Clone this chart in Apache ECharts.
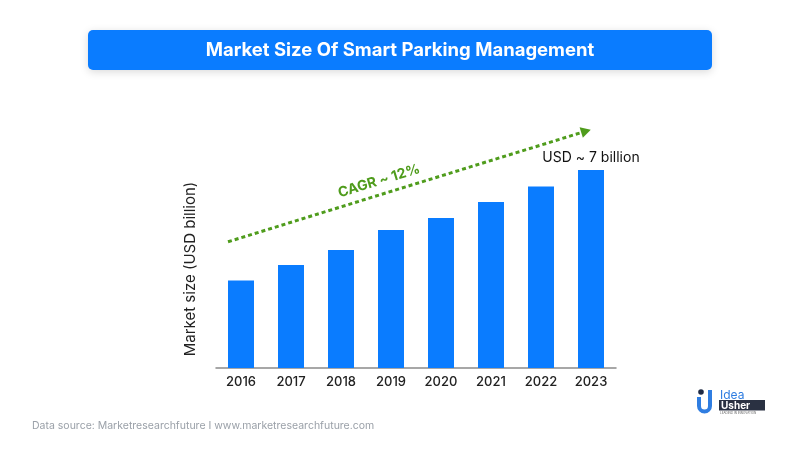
<!DOCTYPE html>
<html>
<head>
<meta charset="utf-8">
<script src="https://cdn.jsdelivr.net/npm/echarts@6/dist/echarts.min.js"></script>
<style>html,body{margin:0;padding:0;background:#fff}#c{width:800px;height:450px}</style>
</head>
<body>
<div id="c"></div>
<script>
var years = ['2016','2017','2018','2019','2020','2021','2022','2023'];
var marketSize = [3.09, 3.64, 4.17, 4.88, 5.30, 5.87, 6.41, 7.0];
var lastLabel = 'USD ~ 7 billion';
var cagrStart = [-0.26, 4.46];
var cagrEnd = [6.90, 8.37];
var cagrText = 'CAGR ~ 12%';
var titleText = 'Market Size Of Smart Parking Management';
var yName = 'Market size (USD billion)';
var sourceText = 'Data source: Marketresearchfuture I www.marketresearchfuture.com';

var FONT = 'Inter, "Open Sans", sans-serif';
var GREEN = '#4f9c1c';
var BLUE = '#0a7cff';

var chart = echarts.init(document.getElementById('c'));
var barData = marketSize.map(function(v, i){
  var d = {value: v};
  if (i === marketSize.length - 1) {
    d.label = {show: true, position: 'top', distance: 5, formatter: lastLabel, color: '#111', fontSize: 14, fontFamily: FONT};
  }
  return d;
});
chart.setOption({
  animation: false,
  grid: {left: 216, right: 184, top: 113.3, bottom: 82},
  xAxis: [{
    type: 'category', data: years,
    axisLine: {lineStyle: {color: '#8a8a8a', width: 1.5}},
    axisTick: {show: false},
    axisLabel: {color: '#222', fontSize: 13, fontFamily: FONT, fontWeight: 500, margin: 8}
  }, {
    type: 'value', min: -0.5, max: 7.5, show: false
  }],
  yAxis: {type: 'value', min: 0, max: 9, show: false, splitLine: {show: false}},
  series: [{
    type: 'bar', data: barData, barWidth: '52%',
    itemStyle: {color: BLUE}
  }, {
    type: 'line', xAxisIndex: 1, data: [], silent: true,
    markLine: {
      silent: true,
      symbol: ['none', 'triangle'], symbolSize: [11, 10],
      label: {show: false},
      lineStyle: {color: GREEN, width: 3, type: [4, 3]},
      data: [[{coord: cagrStart}, {coord: cagrEnd}]]
    }
  }],
  graphic: [
    {type: 'rect', shape: {x: 88, y: 30, width: 624, height: 40, r: 5},
     style: {fill: BLUE, shadowBlur: 8, shadowColor: 'rgba(0,0,0,0.15)', shadowOffsetY: 2}},
    {type: 'text', x: 400, y: 50, style: {text: titleText, fill: '#fff', font: 'bold 18.5px ' + FONT, textAlign: 'center', textVerticalAlign: 'middle'}},
    {type: 'text', x: 379, y: 181, rotation: 17 * Math.PI / 180,
     style: {text: cagrText, fill: GREEN, font: 'bold 14px ' + FONT, textAlign: 'center', textVerticalAlign: 'middle'}},
    {type: 'text', x: 190, y: 269, rotation: Math.PI / 2,
     style: {text: yName, fill: '#222', font: '15px ' + FONT, textAlign: 'center', textVerticalAlign: 'middle'}},
    {type: 'text', x: 32, y: 426, style: {text: sourceText, fill: '#9aa0a8', font: '10.5px ' + FONT, textVerticalAlign: 'middle'}},
    // logo
    {type: 'circle', shape: {cx: 701, cy: 392, r: 2.8}, style: {fill: '#1f2a44'}},
    {type: 'rect', shape: {x: 697, y: 397, width: 4, height: 9}, style: {fill: '#2f7de1'}},
    {type: 'rect', shape: {x: 708, y: 390, width: 4, height: 16}, style: {fill: '#2f7de1'}},
    {type: 'sector', shape: {cx: 704.5, cy: 406, r: 7.5, r0: 3.5, startAngle: 0, endAngle: Math.PI}, style: {fill: '#2f7de1'}},
    {type: 'text', x: 720, y: 395, style: {text: 'Idea', fill: '#2f7de1', font: '12px ' + FONT, textVerticalAlign: 'middle'}},
    {type: 'rect', shape: {x: 719, y: 400, width: 46, height: 10.5}, style: {fill: '#2a3142'}},
    {type: 'text', x: 721, y: 405.5, style: {text: 'Usher', fill: '#fff', font: 'bold 10px ' + FONT, textVerticalAlign: 'middle'}},
    {type: 'text', x: 720, y: 413.5, style: {text: 'LEADING IN INNOVATION', fill: '#666', font: '3px ' + FONT, textVerticalAlign: 'middle'}}
  ]
});
</script>
</body>
</html>
